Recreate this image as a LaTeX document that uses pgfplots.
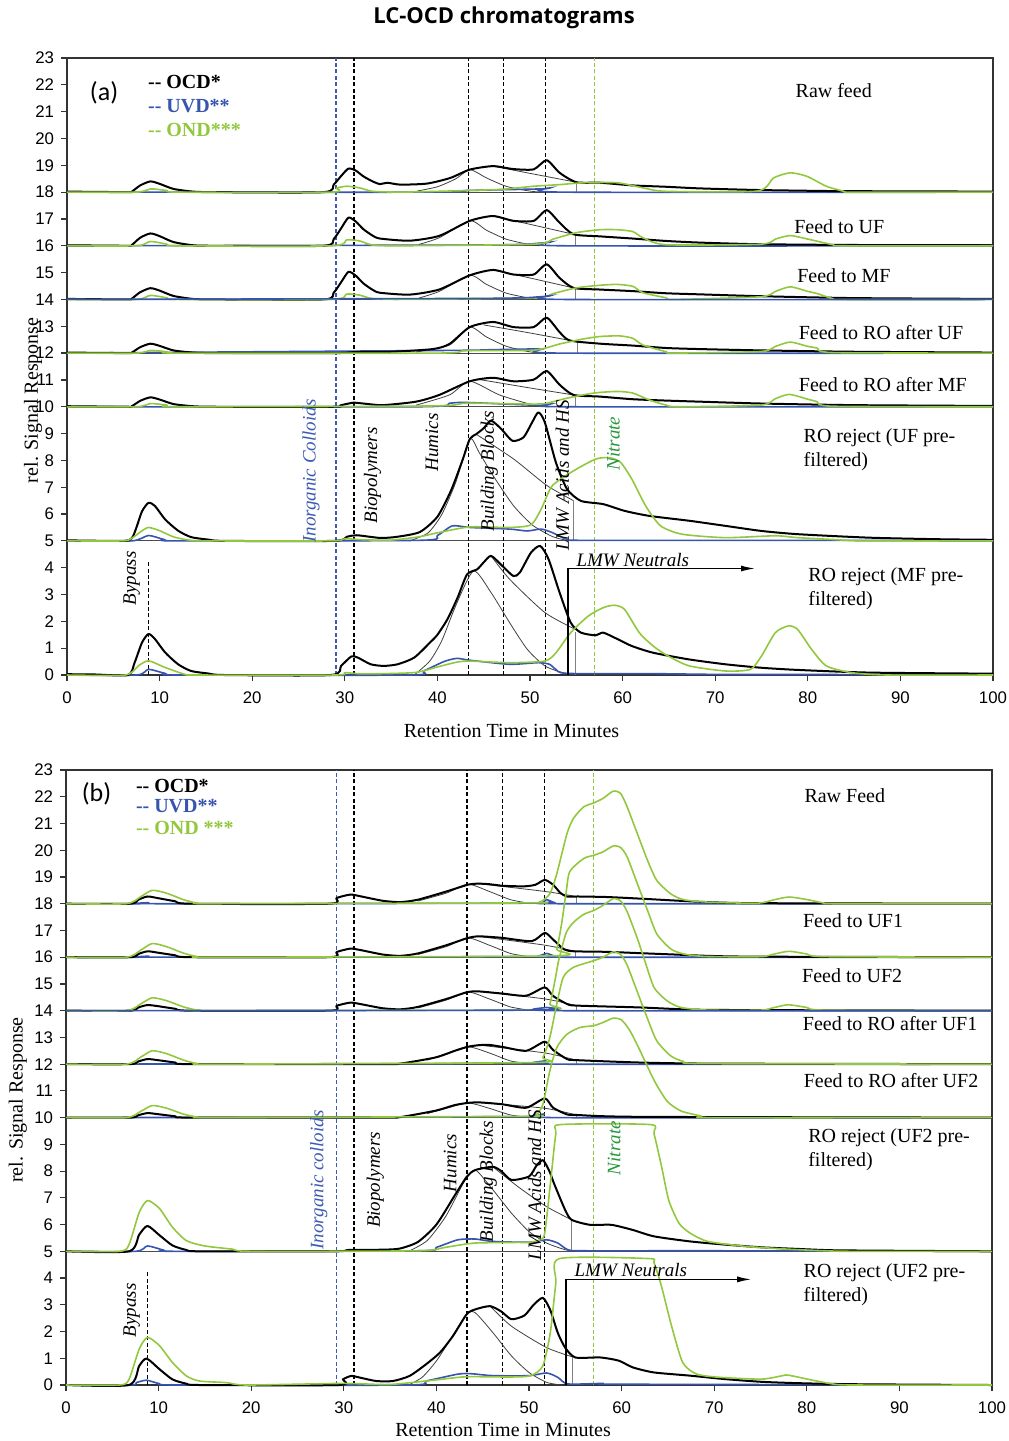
\documentclass[border=0pt]{standalone}
\usepackage{pgfplots}
\pgfplotsset{compat=1.18}
\usepackage{fontspec}
\setmainfont{Liberation Serif}
\setsansfont{Liberation Sans}
\newfontfamily\carlito{Carlito}
\newfontfamily\opensans{Open Sans}
\usetikzlibrary{arrows.meta}
\definecolor{ondgreen}{RGB}{146,200,62}
\definecolor{uvdblue}{RGB}{55,85,175}
\definecolor{nitgreen}{RGB}{40,150,60}
\definecolor{labblue}{RGB}{60,90,180}
\newcommand\lab{\fontsize{10bp}{12bp}\selectfont}
\newcommand\rot{\itshape\fontsize{9.5bp}{11bp}\selectfont}
\tikzset{vdash/.style={dash pattern=on 2bp off 1.2bp, line width=0.6bp}}
\pgfplotsset{
  chrom/.style={
    scale only axis, width=463bp,
    xmin=0, xmax=100, ymin=0, ymax=23,
    xtick={0,10,...,100}, ytick={0,1,...,23},
    tick align=outside, tick pos=left, major tick length=3bp,
    axis line style={line width=0.7bp, black!80},
    tick style={line width=0.6bp, black!80},
    tick label style={font=\sffamily\fontsize{8.4bp}{10bp}\selectfont},
    xticklabel style={yshift=-2bp},
    /pgf/number format/assume math mode=true,
    clip=false,
  },
  ocd/.style={black, line width=1bp, line join=round, smooth, tension=0.4},
  fit/.style={black!75, line width=0.4bp, smooth, tension=0.4},
  ond/.style={ondgreen, line width=0.8bp, line join=round, smooth, tension=0.4},
  uvd/.style={uvdblue, line width=0.8bp, smooth, tension=0.4},
  sep/.style={black!70, line width=0.5bp},
  off/.style={y filter/.expression={y+#1}},
}
\begin{document}
\begin{tikzpicture}
\path[use as bounding box] (0,0) rectangle (504.5bp,-720.5bp);
\node[font=\opensans\bfseries\fontsize{11bp}{13bp}\selectfont] at (252bp,-9bp) {LC-OCD chromatograms};

% ---------------- panel (a) ----------------
\begin{axis}[chrom, height=308.5bp, at={(33.5bp,-337.5bp)}, anchor=south west]
\pgfplotsinvokeforeach{18,16,14,12,10,5}{\addplot[sep] coordinates {(0,#1)(100,#1)};}
\draw[vdash, labblue] (axis cs:29.05,0) -- (axis cs:29.05,23);
\draw[vdash, ondgreen] (axis cs:57,0) -- (axis cs:57,23);
\pgfplotsinvokeforeach{31,43.4,47.1,51.7}{\draw[vdash, black] (axis cs:#1,0) -- (axis cs:#1,23);}
\draw[vdash, black] (axis cs:8.8,0) -- (axis cs:8.8,4.25);

% trace 1: raw feed
\addplot[fit, off=18] coordinates {(37.8,0.04)(40,0.2)(42,0.5)(43.5,0.84)(45.3,0.53)(47.4,0.22)(49.6,0.06)(51,0)};
\addplot[fit, off=18] coordinates {(46,0.97)(50,0.7)(55,0.37)};
\addplot[fit, gray, off=18] coordinates {(55,0)(55,0.37)};
\addplot[uvd, off=18] coordinates {(0,0)(40,0)(43.1,0.06)(51.1,0.12)(52.2,0.16)(53.6,0)(100,0)};
\addplot[ocd, off=18] coordinates {(0,0.02)(6.5,0)(7,0.02)(7.9,0.25)(9,0.4)(10,0.31)(11.5,0.12)(13.6,0.02)(16,0)(27.7,0)(28.8,0.28)(29.6,0.6)(30.4,0.88)(31.2,0.8)(32,0.59)(33,0.4)(33.8,0.3)(34.6,0.35)(36,0.28)(38.9,0.32)(41.4,0.53)(43.5,0.84)(46,0.97)(48.2,0.86)(50.4,0.85)(51.8,1.19)(53.2,0.72)(55,0.37)(57.6,0.35)(61.1,0.25)(64.7,0.2)(68.3,0.14)(74.5,0.08)(82.7,0.04)(90,0.03)(100,0.02)};
\addplot[ond, off=18] coordinates {(0,0)(7.5,0)(9,0.12)(10.8,0.06)(12,0)(28.5,0)(29.1,0.15)(30.2,0.22)(31.6,0.16)(33,0.03)(36,0)(40,0.03)(46.7,0.1)(50.4,0.22)(53.2,0.28)(55.8,0.35)(59.4,0.35)(62.2,0.16)(64.7,0.03)(74.5,0.04)(76.3,0.53)(78.1,0.72)(79.9,0.59)(82,0.22)(83.9,0.03)(85,0)(100,0)};

% trace 2: feed to UF
\addplot[fit, off=16] coordinates {(38,0.05)(40.2,0.3)(43.5,0.93)(45.3,0.58)(47.4,0.25)(49.6,0.07)(51,0)};
\addplot[fit, off=16] coordinates {(46,1.11)(50,0.8)(54.7,0.43)};
\addplot[fit, gray, off=16] coordinates {(54.9,0)(54.9,0.43)};
\addplot[uvd, off=16] coordinates {(0,0)(45,0.03)(51.1,0.1)(52.2,0.14)(53.6,0)(100,0)};
\addplot[ocd, off=16] coordinates {(0,0.02)(6.5,0)(7,0.03)(7.9,0.3)(9,0.46)(10,0.36)(11.5,0.14)(13.6,0.02)(16,0)(27.7,0)(28.8,0.25)(29.6,0.65)(30.4,1.05)(31.2,0.9)(32,0.62)(33,0.38)(33.8,0.27)(37,0.19)(40.2,0.37)(43.5,0.93)(46,1.11)(48.2,0.93)(50.4,0.93)(51.8,1.33)(53.2,0.86)(54.7,0.43)(57.6,0.35)(61.1,0.27)(64.7,0.18)(68.3,0.12)(74.5,0.06)(85,0.03)(100,0.02)};
\addplot[ond, off=16] coordinates {(0,0)(7.5,0)(9,0.16)(10.8,0.06)(12,0)(28.5,0)(30.2,0.22)(31.6,0.18)(33,0.03)(36,0)(50.4,0.06)(52.5,0.25)(55,0.49)(57.6,0.6)(59.4,0.6)(61.1,0.53)(62.2,0.3)(64.7,0.04)(74.9,0.06)(76.5,0.25)(78.1,0.38)(80,0.25)(82.7,0.04)(84,0)(100,0)};

% trace 3: feed to MF
\addplot[fit, off=14] coordinates {(38,0.05)(40.2,0.3)(43.5,0.9)(45.3,0.56)(47.4,0.24)(49.6,0.07)(51,0)};
\addplot[fit, off=14] coordinates {(46,1.1)(50,0.8)(54.7,0.43)};
\addplot[fit, gray, off=14] coordinates {(54.9,0)(54.9,0.43)};
\addplot[ocd, off=14] coordinates {(0,0.02)(6.5,0)(7,0.03)(7.9,0.27)(9,0.42)(10,0.33)(11.5,0.13)(13.6,0.02)(16,0)(27.7,0)(28.8,0.25)(29.6,0.64)(30.4,1.03)(31.2,0.88)(32,0.6)(33,0.36)(33.8,0.25)(37,0.18)(40.2,0.37)(43.5,0.9)(46,1.1)(48.2,0.93)(50.4,0.93)(51.8,1.31)(53.2,0.8)(54.7,0.43)(57.5,0.37)(61.1,0.31)(64.7,0.23)(68.3,0.19)(75,0.12)(85,0.05)(100,0.02)};
\addplot[ond, off=14] coordinates {(0,0)(7.5,0)(9,0.15)(10.8,0.06)(12,0)(28.5,0)(30.2,0.2)(31.6,0.16)(33,0.03)(36,0)(50.4,0.06)(52.5,0.22)(55,0.43)(57.6,0.53)(59.4,0.56)(61.1,0.49)(62.2,0.25)(64.7,0.06)(65.5,0)(74.9,0.1)(76.5,0.3)(78.1,0.47)(80,0.3)(81,0.22)(82.7,0.03)(84,0)(100,0)};
\addplot[uvd, off=14] coordinates {(0,0)(45,0.04)(51.1,0.1)(52.2,0.14)(53.6,0)(100,0)};

% trace 4: feed to RO after UF
\addplot[fit, off=12] coordinates {(37.7,0.04)(41.3,0.3)(43.5,0.97)(45.3,0.6)(47.4,0.26)(49.6,0.07)(51,0)};
\addplot[fit, off=12] coordinates {(45,1.05)(50,0.75)(55.1,0.42)};
\addplot[fit, gray, off=12] coordinates {(55.1,0)(55.1,0.42)};
\addplot[uvd, off=12] coordinates {(0,0)(41.3,0.1)(45,0.12)(51.1,0.15)(53.2,0)(100,0)};
\addplot[ocd, off=12] coordinates {(0,0.02)(6.5,0)(7,0.02)(7.9,0.22)(9,0.35)(10,0.27)(11.5,0.1)(13.6,0.02)(16,0)(29,0)(31,0.04)(35,0.05)(39.5,0.15)(41.3,0.34)(43.5,0.97)(46,1.16)(48.2,0.97)(50.4,0.97)(51.8,1.32)(53.2,0.78)(54.3,0.47)(57.6,0.35)(61.1,0.28)(64.7,0.19)(68.3,0.15)(75,0.1)(85,0.05)(100,0.02)};
\addplot[ond, off=12] coordinates {(0,0)(7.5,0)(9,0.1)(10.8,0.05)(12,0)(40,0)(43.1,0.09)(50.4,0.11)(53.2,0.34)(55.8,0.53)(57.6,0.62)(59.7,0.64)(61.1,0.55)(62.2,0.3)(64.7,0.05)(65.4,0)(74.9,0.06)(76.5,0.25)(78.1,0.41)(80,0.25)(81,0.19)(82.7,0.02)(100,0)};

% trace 5: feed to RO after MF
\addplot[fit, off=10] coordinates {(37.7,0.06)(41.3,0.44)(43.5,0.95)(46.7,0.44)(50.4,0.06)(52,0)};
\addplot[fit, off=10] coordinates {(44.6,1.01)(50,0.7)(54.7,0.44)};
\addplot[fit, gray, off=10] coordinates {(54.9,0)(54.9,0.44)};
\addplot[uvd, off=10] coordinates {(0,0)(38,0)(41.3,0.13)(43.1,0.16)(50.4,0.06)(52.2,0.1)(53.6,0)(100,0)};
\addplot[ocd, off=10] coordinates {(0,0.02)(6.5,0)(7,0.02)(7.9,0.22)(9,0.35)(10,0.27)(11.5,0.1)(13.6,0.02)(16,0)(28.8,0)(29.5,0.05)(30.9,0.15)(32,0.12)(34.1,0.06)(37.7,0.19)(40.2,0.44)(43.5,0.95)(46,1.08)(48.2,0.95)(50.4,1.01)(51.8,1.33)(53.2,0.82)(54.7,0.44)(57.5,0.38)(61.1,0.28)(64.7,0.23)(68.3,0.19)(75,0.12)(85,0.06)(100,0.03)};
\addplot[ond, off=10] coordinates {(0,0)(7.5,0)(9,0.12)(10.8,0.06)(12,0)(39.5,0.03)(43.1,0.13)(50.4,0.1)(51.8,0.13)(54,0.32)(56.9,0.51)(59.4,0.57)(61.1,0.51)(62.9,0.25)(64.7,0.06)(66,0)(74.9,0.06)(76.5,0.3)(78,0.46)(80,0.28)(81,0.19)(82.7,0.02)(100,0)};

% trace 6: RO reject (UF)
\addplot[fit, off=5] coordinates {(37,0)(39,0.3)(40.5,1.0)(42,2.2)(43.5,3.8)(44.5,3.3)(46,2.44)(48.2,1.32)(50.3,0.58)(52.5,0.15)(54,0.02)};
\addplot[fit, off=5] coordinates {(44.3,3.95)(48.2,3.06)(51.8,2.07)(54.7,1.5)};
\addplot[fit, gray, off=5] coordinates {(54.7,0)(54.7,1.48)};
\addplot[uvd, off=5] coordinates {(0,0)(7,0)(8.8,0.2)(10.5,0.05)(12,0)(38,0.02)(40,0.2)(41.6,0.56)(43.5,0.5)(47.8,0.44)(49.7,0.37)(51.2,0.44)(52.4,0.31)(54,0.06)(56,0.02)(80,0.02)(100,0)};
\addplot[ocd, off=5] coordinates {(0,0.02)(6,0)(7,0.1)(7.5,0.5)(8.1,1.1)(8.8,1.42)(9.5,1.3)(10.6,0.8)(12,0.38)(13.4,0.14)(15.2,0.05)(17,0)(28.8,0)(30.2,0.15)(31.3,0.21)(33.8,0.11)(35.6,0.15)(38.1,0.33)(40,0.9)(41.5,1.9)(42.7,3.0)(43.5,3.8)(44.2,3.98)(45,4.2)(45.8,4.48)(46.9,4.17)(48.1,3.73)(49.3,3.86)(50.2,4.4)(50.9,4.79)(51.6,4.42)(52.8,2.92)(54,1.93)(55.5,1.49)(57.9,1.37)(60.2,1.12)(62.9,0.93)(67.2,0.75)(71.1,0.56)(75,0.37)(78.9,0.25)(86.6,0.12)(94.4,0.06)(100,0.04)};
\addplot[ond, off=5] coordinates {(0,0)(6,0)(7,0.1)(8,0.35)(8.8,0.5)(10,0.38)(11.5,0.15)(13,0.04)(15,0)(28.5,0)(30,0.08)(32,0.04)(35,0.03)(38,0.15)(40,0.3)(43.5,0.52)(47.8,0.5)(50.1,0.6)(51.2,1.18)(52.4,2.05)(54.7,2.61)(57.1,3.05)(58.6,3.1)(59.8,2.92)(61,2.3)(62.5,1.3)(64.1,0.56)(66.4,0.25)(71.1,0.12)(76.5,0.19)(78.9,0.12)(82.8,0.05)(86,0)(100,0)};

% trace 7: RO reject (MF)
\addplot[fit] coordinates {(37.5,0)(39.2,0.53)(40.5,1.3)(42,2.6)(43.9,3.88)(45.8,3.07)(47.8,1.95)(49.7,0.96)(51.6,0.34)(53.5,0.09)(55,0)};
\addplot[fit] coordinates {(45.8,4.44)(47.8,3.57)(51.6,2.33)(54.9,1.7)};
\addplot[fit, gray] coordinates {(54.9,0)(54.9,1.62)};
\addplot[uvd] coordinates {(0,0)(7.5,0)(8.8,0.21)(10.6,0.06)(12,0)(37,0)(38.5,0.15)(40.7,0.5)(42.1,0.62)(43.5,0.55)(47.8,0.4)(50.9,0.46)(52.1,0.4)(52.8,0.21)(54,0.06)(63.3,0.05)(71,0.02)(80,0.02)(100,0)};
\addplot[ocd] coordinates {(0,0.03)(3,0.02)(6.6,0)(7.3,0.46)(8.1,1.21)(8.8,1.53)(9.5,1.34)(10.6,0.84)(12,0.4)(13.4,0.15)(15.2,0.06)(17,0)(28.5,0)(29.6,0.34)(30.7,0.69)(31.4,0.65)(32.8,0.4)(34.2,0.34)(35.7,0.4)(37.5,0.65)(39.2,1.21)(40,1.5)(41.1,2.09)(42.2,2.9)(43.2,3.75)(44.3,3.94)(45,4.2)(45.8,4.44)(47,4.07)(48.2,3.69)(48.9,3.82)(50.1,4.56)(51.1,4.81)(52,4.32)(53.2,3.07)(54.4,1.95)(55.5,1.58)(57.1,1.48)(57.9,1.58)(59.5,1.33)(61,1.08)(63.3,0.83)(67.2,0.58)(71.1,0.4)(75,0.27)(78.9,0.19)(86.7,0.09)(100,0.05)};
\addplot[ond] coordinates {(0,0)(6.3,0)(7.7,0.34)(8.8,0.53)(10.6,0.28)(12.7,0.03)(14,0)(29,0)(30,0.09)(32,0.04)(37.5,0.09)(40,0.3)(42.1,0.48)(43.5,0.52)(47.8,0.46)(51.6,0.52)(52.8,0.83)(54.4,1.58)(56.3,2.2)(57.9,2.51)(59.1,2.6)(60.2,2.45)(61.8,1.58)(63.3,1.08)(64.9,0.71)(67.2,0.34)(71.1,0.15)(73.8,0.21)(75,0.71)(76.5,1.58)(77.9,1.83)(78.9,1.7)(80.4,0.96)(82,0.34)(84.7,0.09)(88.6,0)(100,0)};

\draw[line width=0.7bp, -{Latex[length=7bp,width=3bp]}] (axis cs:54.1,0) |- (axis cs:74.3,3.97);
\node[font=\rot] at (axis cs:61.1,4.27) {LMW Neutrals};

\node[font=\carlito\fontsize{13bp}{15bp}\selectfont] at (axis cs:4,21.7) {(a)};
\node[anchor=west, font=\bfseries\lab] at (axis cs:8.0,22.1) {-{}- OCD*};
\node[anchor=west, font=\bfseries\lab, text=uvdblue] at (axis cs:8.0,21.2) {-{}- UVD**};
\node[anchor=west, font=\bfseries\lab, text=ondgreen] at (axis cs:8.0,20.3) {-{}- OND***};

\node[font=\lab] at (axis cs:82.8,21.77) {Raw feed};
\node[font=\lab] at (axis cs:83.4,16.73) {Feed to UF};
\node[font=\lab] at (axis cs:83.9,14.87) {Feed to MF};
\node[font=\lab] at (axis cs:87.9,12.78) {Feed to RO after UF};
\node[font=\lab] at (axis cs:88.1,10.84) {Feed to RO after MF};
\node[font=\lab, anchor=west, align=left] at (axis cs:78.8,8.41) {RO reject (UF pre-\\filtered)};
\node[font=\lab, anchor=west, align=left] at (axis cs:79.3,3.22) {RO reject (MF pre-\\filtered)};

\node[font=\rot, rotate=90, text=labblue] at (axis cs:26.35,7.6) {Inorganic Colloids};
\node[font=\rot, rotate=90] at (axis cs:33.0,7.44) {Biopolymers};
\node[font=\rot, rotate=90] at (axis cs:39.4,8.67) {Humics};
\node[font=\rot, rotate=90] at (axis cs:45.6,7.6) {Building Blocks};
\node[font=\rot, rotate=90] at (axis cs:53.5,7.44) {LMW Acids and HS};
\node[font=\rot, rotate=90, text=nitgreen] at (axis cs:59,8.63) {Nitrate};
\node[font=\rot, rotate=90] at (axis cs:7.0,3.6) {Bypass};

\node[font=\lab] at (axis cs:48,-2.07) {Retention Time in Minutes};
\node[font=\lab, rotate=90] at (axis cs:-3.67,10.24) {rel. Signal Response};
\end{axis}

% ---------------- panel (b) ----------------
\begin{axis}[chrom, height=307.5bp, at={(33bp,-692.5bp)}, anchor=south west]
\pgfplotsinvokeforeach{18,16,14,12,10,5}{\addplot[sep] coordinates {(0,#1)(100,#1)};}
\draw[vdash, labblue] (axis cs:29.2,0) -- (axis cs:29.2,23);
\draw[vdash, ondgreen] (axis cs:57,0) -- (axis cs:57,23);
\pgfplotsinvokeforeach{31.1,43.3,47.1,51.7}{\draw[vdash, black] (axis cs:#1,0) -- (axis cs:#1,23);}
\draw[vdash, black] (axis cs:8.8,0) -- (axis cs:8.8,4.22);

% trace 1: raw feed
\addplot[fit, off=18] coordinates {(38,0.1)(41.1,0.4)(43.4,0.73)(45.7,0.46)(48,0.15)(50,0.02)};
\addplot[fit, off=18] coordinates {(44.5,0.75)(51.7,0.46)(55.1,0.27)};
\addplot[fit, gray, off=18] coordinates {(55.1,0)(55.1,0.27)};
\addplot[uvd, off=18] coordinates {(0,0)(8,0)(9,0.04)(10,0)(50,0.02)(51.2,0.06)(51.9,0.15)(52.6,0.06)(53.3,0)(100,0)};
\addplot[ocd, off=18] coordinates {(0,0)(6.9,0)(7.8,0.15)(8.8,0.27)(9.9,0.21)(11.8,0.09)(13.4,0)(28.4,0)(29.2,0.21)(30.7,0.34)(31.9,0.27)(34.2,0.11)(36.1,0.06)(38,0.15)(41.1,0.46)(43.4,0.71)(44.5,0.75)(45.7,0.73)(47.2,0.67)(49.5,0.65)(50.7,0.71)(51.7,0.89)(52.6,0.71)(53.4,0.4)(54.1,0.27)(55.3,0.27)(58.4,0.25)(62,0.19)(65.7,0.12)(69.3,0.06)(74.7,0.02)(100,0)};
\addplot[ond, off=18] coordinates {(0,0)(6.5,0)(8.1,0.27)(9.3,0.5)(10.8,0.4)(12.7,0.15)(14.2,0.02)(16,0)(50,0.03)(51.2,0.06)(52.25,0.37)(53,1.12)(54.1,2.62)(54.8,3.19)(55.9,3.62)(57,3.77)(58,3.94)(59.1,4.21)(59.9,4.12)(60.6,3.62)(61.7,2.62)(62.8,1.62)(63.8,0.87)(65.3,0.37)(66.7,0.15)(69.3,0.06)(74.7,0.02)(76.5,0.15)(78.1,0.25)(80.1,0.15)(81.9,0.02)(83,0)(100,0)};

% trace 2: feed to UF1
\addplot[fit, off=16] coordinates {(38,0.1)(41.1,0.4)(43.4,0.72)(45.7,0.45)(48,0.14)(50,0.02)};
\addplot[fit, off=16] coordinates {(44.5,0.78)(51.7,0.45)(55,0.22)};
\addplot[fit, gray, off=16] coordinates {(55,0)(55,0.22)};
\addplot[uvd, off=16] coordinates {(0,0)(8,0)(9,0.04)(10,0)(50,0.02)(51.2,0.06)(51.9,0.14)(52.6,0.06)(53.3,0)(100,0)};
\addplot[ocd, off=16] coordinates {(0,0)(6.9,0)(7.8,0.12)(8.8,0.22)(9.9,0.17)(11.8,0.07)(13.4,0)(28.4,0)(29.2,0.19)(30.7,0.32)(31.9,0.26)(34.2,0.1)(36.1,0.05)(38,0.14)(41.1,0.45)(43.4,0.72)(44.5,0.78)(45.7,0.76)(47.2,0.72)(50.3,0.6)(51.7,0.91)(52.6,0.66)(53.8,0.29)(54.9,0.22)(58.4,0.2)(62,0.15)(65.7,0.1)(69.3,0.05)(74.7,0.02)(100,0)};
\addplot[ond, off=16] coordinates {(0,0)(6.5,0)(8.1,0.27)(9.3,0.51)(10.8,0.4)(12.7,0.15)(14.2,0.02)(16,0)(52.5,0.05)(53,0.3)(53.5,1.2)(54,2.4)(54.4,3.2)(55.9,3.69)(57,3.81)(58,3.94)(59.1,4.16)(59.9,4.1)(60.6,3.75)(61.7,2.75)(62.8,1.75)(63.8,0.87)(65.3,0.31)(66.7,0.12)(69,0.03)(75,0.02)(76.5,0.12)(78.1,0.22)(80,0.12)(82,0.02)(100,0)};

% trace 3: feed to UF2
\addplot[fit, off=14] coordinates {(38,0.1)(41.1,0.4)(43.4,0.7)(45.7,0.44)(48,0.14)(50,0.02)};
\addplot[fit, off=14] coordinates {(44.6,0.72)(51.7,0.44)(55.1,0.19)};
\addplot[fit, gray, off=14] coordinates {(55.1,0)(55.1,0.19)};
\addplot[ocd, off=14] coordinates {(0,0)(6.9,0)(7.8,0.12)(8.8,0.21)(9.9,0.17)(11.8,0.07)(13.4,0)(28.4,0)(29.2,0.18)(30.7,0.3)(31.9,0.24)(34.2,0.09)(36.1,0.05)(38,0.14)(41.1,0.44)(43.4,0.7)(44.6,0.72)(47.1,0.64)(49.7,0.56)(51.7,0.87)(52.6,0.55)(54.1,0.25)(55.1,0.19)(62,0.12)(67.5,0.04)(75,0.02)(100,0)};
\addplot[ond, off=14] coordinates {(0,0)(6.5,0)(8.1,0.26)(9.3,0.48)(10.8,0.38)(12.7,0.14)(14.2,0.02)(16,0)(51.5,0.03)(52.25,0.25)(52.8,1.12)(53.2,1.87)(54,2.9)(54.8,3.3)(55.9,3.6)(57,3.75)(58,3.94)(59.1,4.19)(59.9,4.1)(60.6,3.7)(61.7,2.7)(62.5,1.87)(63.5,0.87)(64.9,0.37)(66.4,0.12)(69.3,0.02)(75,0.02)(76.5,0.12)(78,0.22)(80,0.12)(82,0.02)(100,0)};
\addplot[uvd, off=14] coordinates {(0,0)(50,0.02)(51.9,0.12)(53,0)(100,0)};

% trace 4: feed to RO after UF1
\addplot[fit, off=12] coordinates {(39,0.15)(41.1,0.4)(43.4,0.65)(45.7,0.42)(48,0.12)(50,0.02)};
\addplot[fit, off=12] coordinates {(44.6,0.71)(51.7,0.42)(55.1,0.15)};
\addplot[fit, gray, off=12] coordinates {(55.1,0)(55.1,0.15)};
\addplot[uvd, off=12] coordinates {(0,0)(40,0.02)(45,0.04)(50,0.03)(51.9,0.13)(53,0)(100,0)};
\addplot[ocd, off=12] coordinates {(0,0)(6.9,0)(7.8,0.1)(8.8,0.19)(9.9,0.15)(11.8,0.06)(13.4,0)(34,0)(36.1,0.02)(39.9,0.25)(42,0.5)(43.4,0.65)(44.6,0.71)(45.7,0.72)(47.2,0.64)(49.7,0.5)(51.7,0.84)(52.6,0.53)(54.1,0.19)(55.1,0.15)(62,0.06)(70,0.02)(100,0)};
\addplot[ond, off=12] coordinates {(0,0)(6.5,0)(8.1,0.27)(9.3,0.5)(10.8,0.4)(12.7,0.15)(14.2,0.02)(16,0)(50.4,0.06)(51.5,0.25)(52.25,1.0)(53,2.25)(53.7,3.25)(54.8,3.62)(57,3.87)(58,4.0)(59.1,4.2)(59.9,4.1)(60.6,3.7)(61.7,2.7)(62.8,1.7)(63.8,0.87)(65.3,0.31)(66.7,0.1)(69,0.02)(100,0)};

% trace 5: feed to RO after UF2
\addplot[fit, off=10] coordinates {(39,0.15)(41.1,0.35)(43.4,0.55)(45.7,0.35)(48,0.1)(50,0.02)};
\addplot[fit, off=10] coordinates {(44.6,0.57)(51.7,0.35)(55.1,0.1)};
\addplot[fit, gray, off=10] coordinates {(55.1,0)(55.1,0.1)};
\addplot[uvd, off=10] coordinates {(0,0)(40,0.02)(45,0.04)(50,0.03)(51.7,0.14)(53,0)(100,0)};
\addplot[ocd, off=10] coordinates {(0,0)(6.9,0)(7.8,0.09)(8.8,0.17)(9.9,0.13)(11.8,0.05)(13.4,0)(34,0)(36.1,0.02)(39.9,0.26)(42,0.47)(43.4,0.55)(44.6,0.57)(47.1,0.5)(49.7,0.37)(51.7,0.72)(52.6,0.37)(54.1,0.12)(55.1,0.1)(62,0.03)(100,0)};
\addplot[ond, off=10] coordinates {(0,0)(6.5,0)(8.1,0.24)(9.3,0.45)(10.8,0.36)(12.7,0.13)(14.2,0.02)(16,0)(49.5,0.05)(50.8,0.12)(51.5,0.5)(52.25,1.75)(53,2.62)(54.1,3.12)(55.5,3.37)(57,3.44)(58,3.56)(59.1,3.72)(60,3.65)(60.9,3.25)(62,2.5)(63.5,1.4)(64.9,0.62)(66.4,0.25)(68.6,0.06)(70,0)(100,0)};

% trace 6: RO reject (UF2)
\addplot[fit, off=5] coordinates {(37,0)(39,0.4)(41,1.3)(43,2.6)(44.2,3.04)(46.1,2.3)(48.1,1.43)(50,0.74)(51.9,0.31)(53.9,0.06)(55,0)};
\addplot[fit, off=5] coordinates {(46.1,3.16)(48.8,2.42)(51.9,1.67)(54.6,1.18)};
\addplot[fit, gray, off=5] coordinates {(54.6,0)(54.6,1.18)};
\addplot[uvd, off=5] coordinates {(0,0)(7.5,0)(8.8,0.2)(10.5,0.05)(12,0)(38,0.02)(40,0.15)(42.3,0.43)(44.2,0.46)(46.1,0.37)(50,0.34)(51.9,0.43)(53.1,0.31)(54.2,0.06)(56,0.02)(70,0.02)(100,0)};
\addplot[ocd, off=5] coordinates {(0,0)(6.8,0)(7.9,0.62)(8.8,0.95)(10.1,0.6)(11.5,0.22)(13,0.05)(14.5,0)(29,0)(30.5,0.05)(34,0.06)(36,0.1)(38,0.35)(40,1.0)(42,2.1)(43.3,2.8)(44.2,3.04)(46.1,3.16)(47,3.0)(48.1,2.67)(50,2.8)(50.8,3.2)(51.5,3.41)(52.2,3.0)(52.7,2.54)(53.9,1.55)(54.6,1.18)(56.6,0.99)(58.9,0.99)(61.2,0.8)(63.5,0.56)(67.4,0.37)(71.2,0.25)(75.1,0.15)(79,0.09)(82.8,0.04)(90,0.02)(100,0)};
\addplot[ond, off=5] coordinates {(0,0)(5.8,0)(6.8,0.25)(7.9,1.45)(8.8,1.9)(10.1,1.6)(11.5,0.9)(13,0.4)(15,0.2)(18,0.08)(20,0)(38,0.02)(41,0.15)(44.2,0.31)(50,0.34)(51.2,0.43)(51.7,0.68)(52.3,2.5)(52.9,4.4)(53.4,4.74)(63.1,4.74)(63.5,4.4)(64.3,3.2)(65.1,1.9)(66.2,1.05)(67.4,0.68)(69.3,0.37)(73.2,0.19)(78,0.08)(82,0.02)(85,0)(100,0)};

% trace 7: RO reject (UF2)
\addplot[fit] coordinates {(37,0)(38.5,0.3)(40,0.9)(41.5,1.7)(43.3,2.66)(44.2,2.7)(46.1,1.96)(48.1,1.09)(50,0.47)(51.9,0.1)(53.5,0)};
\addplot[fit] coordinates {(45.8,2.95)(48.1,2.2)(51.9,1.4)(54.7,1.05)};
\addplot[fit, gray] coordinates {(54.7,0)(54.7,1.05)};
\addplot[uvd] coordinates {(0,0)(7,0)(7.6,0.09)(8.7,0.18)(10.1,0.05)(12,0)(37,0)(38.9,0.15)(42.2,0.4)(43.3,0.43)(44.2,0.41)(46.1,0.35)(50,0.35)(51.9,0.45)(53.1,0.29)(54.2,0.04)(58,0.06)(60,0.03)(100,0)};
\addplot[ocd] coordinates {(0,0)(6.8,0)(7.9,0.71)(8.7,0.99)(10.1,0.59)(11.5,0.21)(13,0.05)(14.5,0)(29.4,0)(29.9,0.21)(30.8,0.34)(31.7,0.28)(33.5,0.15)(35.3,0.15)(37.1,0.34)(38.9,0.78)(40.4,1.22)(41.8,1.84)(43.3,2.66)(44.3,2.84)(45.8,2.95)(47,2.75)(48.1,2.46)(49.5,2.6)(50.5,3.0)(51.5,3.26)(52.3,2.8)(53.1,1.96)(53.9,1.4)(55,1.03)(57.7,1.03)(59.7,0.91)(61.2,0.66)(63.5,0.47)(67.4,0.35)(71.2,0.22)(75.1,0.12)(79,0.07)(85,0.03)(100,0)};
\addplot[ond] coordinates {(0,0)(5.8,0)(6.8,0.21)(7.9,1.34)(8.8,1.78)(10.1,1.47)(11.5,0.84)(13,0.34)(14.4,0.15)(17.3,0.09)(19.5,0)(29.9,0.06)(35,0.02)(40.4,0.21)(43.3,0.31)(48,0.3)(50.2,0.35)(51.5,0.72)(52.3,1.96)(52.9,3.82)(53.3,4.73)(62.9,4.73)(63.5,4.57)(64.3,3.7)(65.4,2.2)(66.6,0.84)(68.1,0.41)(70.5,0.29)(75.1,0.22)(77.4,0.35)(78,0.37)(80.9,0.16)(82.8,0.04)(85,0)(100,0)};

\draw[line width=0.7bp, -{Latex[length=7bp,width=3bp]}] (axis cs:54,0) |- (axis cs:74,3.95);
\node[font=\rot] at (axis cs:61,4.3) {LMW Neutrals};

\node[font=\carlito\fontsize{13bp}{15bp}\selectfont] at (axis cs:3.3,22.1) {(b)};
\node[anchor=west, font=\bfseries\lab] at (axis cs:6.8,22.4) {-{}- OCD*};
\node[anchor=west, font=\bfseries\lab, text=uvdblue] at (axis cs:6.8,21.65) {-{}- UVD**};
\node[anchor=west, font=\bfseries\lab, text=ondgreen] at (axis cs:6.8,20.85) {-{}- OND ***};

\node[font=\lab] at (axis cs:84.1,22.03) {Raw Feed};
\node[font=\lab] at (axis cs:85,17.35) {Feed to UF1};
\node[font=\lab] at (axis cs:84.9,15.3) {Feed to UF2};
\node[font=\lab] at (axis cs:89,13.5) {Feed to RO after UF1};
\node[font=\lab] at (axis cs:89.1,11.37) {Feed to RO after UF2};
\node[font=\lab, anchor=west, align=left] at (axis cs:79.4,8.79) {RO reject (UF2 pre-\\filtered)};
\node[font=\lab, anchor=west, align=left] at (axis cs:78.9,3.74) {RO reject (UF2 pre-\\filtered)};

\node[font=\rot, rotate=90, text=labblue] at (axis cs:27.3,7.67) {Inorganic colloids};
\node[font=\rot, rotate=90] at (axis cs:33.4,7.67) {Biopolymers};
\node[font=\rot, rotate=90] at (axis cs:41.5,8.3) {Humics};
\node[font=\rot, rotate=90] at (axis cs:45.6,7.6) {Building Blocks};
\node[font=\rot, rotate=90] at (axis cs:50.6,7.48) {LMW Acids and HS};
\node[font=\rot, rotate=90, text=nitgreen] at (axis cs:59.2,8.86) {Nitrate};
\node[font=\rot, rotate=90] at (axis cs:7.1,2.8) {Bypass};

\node[font=\lab] at (axis cs:47.2,-1.68) {Retention Time in Minutes};
\node[font=\lab, rotate=90] at (axis cs:-5.2,10.66) {rel. Signal Response};
\end{axis}
\end{tikzpicture}
\end{document}
